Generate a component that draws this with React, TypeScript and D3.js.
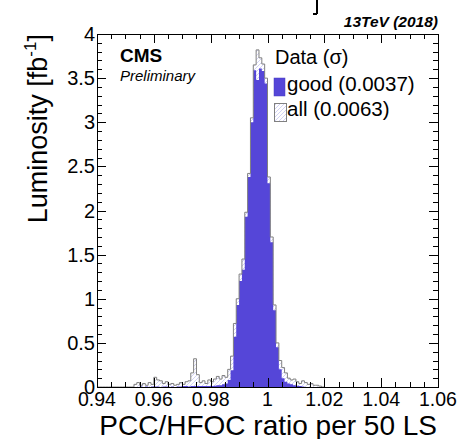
import React from "react";
import * as d3 from "d3";

const binLow = 0.94;
const binWidth = 0.001;

// "all" luminosity per bin (fb^-1), bins of 0.001 from 0.940
const allValues = [
  0, 0, 0, 0, 0, 0, 0, 0, 0, 0,
  0, 0, 0, 0.03, 0.05, 0.02, 0.04, 0.02, 0.05, 0.03,
  0.11, 0.08, 0.07, 0.04, 0.06, 0.03, 0.04, 0.02, 0.03, 0.05,
  0.03, 0.06, 0.07, 0.16, 0.32, 0.14, 0.05, 0.07, 0.04, 0.08,
  0.06, 0.09, 0.12, 0.09, 0.13, 0.11, 0.2, 0.35, 0.72, 1.0,
  1.28, 1.45, 1.98, 2.42, 3.05, 3.65, 3.82, 3.73, 3.66, 3.5,
  2.38, 1.7, 0.93, 0.5, 0.3, 0.22, 0.16, 0.1, 0.08, 0.09,
  0.06, 0.04, 0.07, 0.05, 0.03, 0.04, 0.02, 0.02, 0.01, 0,
];

// "good" luminosity per bin (fb^-1)
const goodValues = [
  0, 0, 0, 0, 0, 0, 0, 0, 0, 0,
  0, 0, 0, 0, 0, 0.005, 0, 0.005, 0, 0.005,
  0.005, 0.005, 0, 0.005, 0.005, 0, 0.005, 0, 0.005, 0.005,
  0.01, 0.01, 0.005, 0.01, 0.01, 0.01, 0.01, 0.01, 0.01, 0.01,
  0.01, 0.015, 0.02, 0.02, 0.03, 0.04, 0.08, 0.19, 0.57, 0.93,
  1.2, 1.33, 1.93, 2.38, 3.0, 3.59, 3.48, 3.61, 3.58, 3.44,
  2.31, 1.64, 0.87, 0.45, 0.2, 0.1, 0.06, 0.04, 0.03, 0.02,
  0.015, 0.01, 0.005, 0, 0, 0, 0, 0, 0, 0,
];

const xTickLabels = ["0.94", "0.96", "0.98", "1", "1.02", "1.04", "1.06"];
const xTickValues = [0.94, 0.96, 0.98, 1.0, 1.02, 1.04, 1.06];
const yTickLabels = ["0", "0.5", "1", "1.5", "2", "2.5", "3", "3.5", "4"];
const yTickValues = [0, 0.5, 1, 1.5, 2, 2.5, 3, 3.5, 4];

const legendHeader = "Data (σ)";
const legendEntries = ["good (0.0037)", "all (0.0063)"];

const FONT = "'Liberation Sans', Arial, Helvetica, sans-serif";
const BLUE = "#5546d8";

export default function App() {
  const W = 460;
  const H = 439;
  const x = d3.scaleLinear().domain([0.94, 1.06]).range([97, 438]);
  const y = d3.scaleLinear().domain([0, 4]).range([387, 34]);

  type P = { x: number; v: number };
  const makePts = (vals: number[]): P[] => {
    const pts: P[] = vals.map((v, i) => ({ x: binLow + i * binWidth, v }));
    const end = binLow + vals.length * binWidth;
    pts.push({ x: end, v: vals[vals.length - 1] });
    return pts;
  };
  const area = d3
    .area<P>()
    .x((d) => x(d.x))
    .y0(y(0))
    .y1((d) => y(d.v))
    .curve(d3.curveStepAfter);
  const line = d3
    .line<P>()
    .x((d) => x(d.x))
    .y((d) => y(d.v))
    .curve(d3.curveStepAfter);

  const allPts = makePts(allValues);
  const goodPts = makePts(goodValues);
  const outlinePts: P[] = [{ x: binLow, v: 0 }, ...allPts, { x: allPts[allPts.length - 1].x, v: 0 }];

  const xMinor = x.ticks(24);
  const yMinor = y.ticks(40);
  const majX = 9, minX = 5, majY = 9, minY = 5;
  const x0 = x.range()[0], x1 = x.range()[1];
  const yb = y.range()[0], yt = y.range()[1];

  const isMajor = (v: number, arr: number[]) => arr.some((m) => Math.abs(m - v) < 1e-9);

  return (
    <div style={{ position: "absolute", left: 0, top: 0 }}>
      <svg width={W} height={H} style={{ display: "block", background: "#fff" }}>
        <defs>
          <pattern id="hatch" patternUnits="userSpaceOnUse" width="4" height="4">
            <rect width="4" height="4" fill="#ffffff" />
            <path d="M-1,1 l2,-2 M0,4 l4,-4 M3,5 l2,-2" stroke="#c6c6f2" strokeWidth="0.8" />
          </pattern>
        </defs>

        {/* clipped glyph of an upper title */}
        <path d="M317,0 L317,14 M317,14 L313,14" stroke="#000" strokeWidth="2" fill="none" />

        {/* histograms */}
        <path d={area(allPts) || ""} fill="url(#hatch)" />
        <path d={area(goodPts) || ""} fill={BLUE} />
        <path d={line(outlinePts) || ""} fill="none" stroke="#808080" strokeWidth={1} />

        {/* frame */}
        <rect x={x0 + 0.5} y={yt + 0.5} width={x1 - x0} height={yb - yt} fill="none" stroke="#000" strokeWidth={1} />

        {/* x ticks bottom & top */}
        {xMinor.map((v, i) => {
          const len = isMajor(v, xTickValues) ? majX : minX;
          const px = Math.round(x(v)) + 0.5;
          return (
            <g key={"xt" + i}>
              <line x1={px} x2={px} y1={yb} y2={yb - len} stroke="#000" strokeWidth={1} />
              <line x1={px} x2={px} y1={yt} y2={yt + len} stroke="#000" strokeWidth={1} />
            </g>
          );
        })}
        {/* y ticks left & right */}
        {yMinor.map((v, i) => {
          const len = isMajor(v, yTickValues) ? majY : minY;
          const py = Math.round(y(v)) + 0.5;
          return (
            <g key={"yt" + i}>
              <line x1={x0} x2={x0 + len} y1={py} y2={py} stroke="#000" strokeWidth={1} />
              <line x1={x1} x2={x1 - len} y1={py} y2={py} stroke="#000" strokeWidth={1} />
            </g>
          );
        })}

        {/* tick labels */}
        {xTickValues.map((v, i) => (
          <text key={"xl" + i} x={x(v)} y={405.5} fontFamily={FONT} fontSize={19.5} textAnchor="middle" fill="#000">
            {xTickLabels[i]}
          </text>
        ))}
        {yTickValues.map((v, i) => (
          <text key={"yl" + i} x={95} y={y(v) + 7} fontFamily={FONT} fontSize={20} textAnchor="end" fill="#000">
            {yTickLabels[i]}
          </text>
        ))}

        {/* axis titles */}
        <text x={437} y={434.5} fontFamily={FONT} fontSize={28} textAnchor="end" fill="#000">
          PCC/HFOC ratio per 50 LS
        </text>
        <text transform={`translate(47,${yt}) rotate(-90)`} fontFamily={FONT} fontSize={27} textAnchor="end" fill="#000">
          Luminosity [fb
          <tspan fontSize={17} dy={-11}>-1</tspan>
          <tspan dy={11}>]</tspan>
        </text>

        {/* labels */}
        <text x={438} y={27} fontFamily={FONT} fontSize={15.5} fontWeight="bold" fontStyle="italic" textAnchor="end" fill="#000">
          13TeV (2018)
        </text>
        <text x={120} y={62} fontFamily={FONT} fontSize={19} fontWeight="bold" fill="#000">
          CMS
        </text>
        <text x={120} y={81} fontFamily={FONT} fontSize={15} fontStyle="italic" fill="#000">
          Preliminary
        </text>

        {/* legend */}
        <text x={275} y={64} fontFamily={FONT} fontSize={20} fill="#000">
          {legendHeader}
        </text>
        <rect x={274} y={78} width={11} height={18} fill={BLUE} stroke="#4a3cc0" strokeWidth={0.5} />
        <text x={287} y={91} fontFamily={FONT} fontSize={20.5} fill="#000">
          {legendEntries[0]}
        </text>
        <rect x={274.5} y={103.5} width={12} height={18} fill="url(#hatch)" stroke="#808080" strokeWidth={1} />
        <text x={287} y={116} fontFamily={FONT} fontSize={20.5} fill="#000">
          {legendEntries[1]}
        </text>
      </svg>
    </div>
  );
}
